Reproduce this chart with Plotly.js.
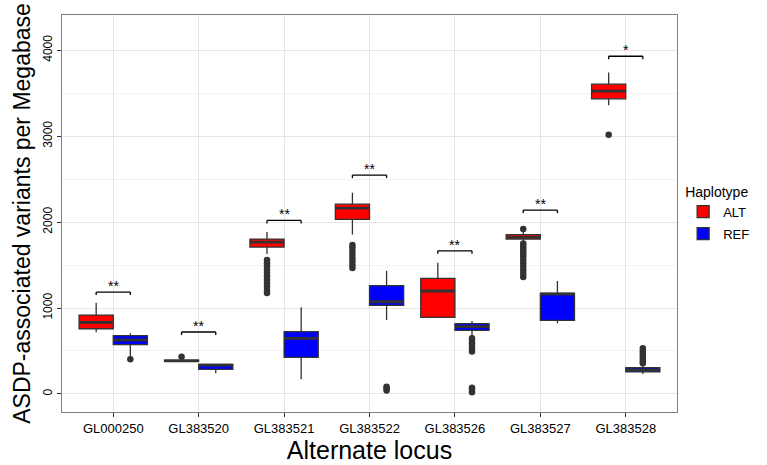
<!DOCTYPE html>
<html>
<head>
<meta charset="utf-8">
<script src="https://cdn.plot.ly/plotly-3.0.1.min.js"></script>
<style>html,body{margin:0;padding:0;background:#fff;}#chart{width:767px;height:465px;}</style>
</head>
<body>
<div id="chart"></div>
<script>
const categories = ["GL000250","GL383520","GL383521","GL383522","GL383526","GL383527","GL383528"];

// ALT haplotype box statistics
const altLower  = [717, 375, 1628, 1857, 892, 1771, 3360];
const altQ1     = [759, 378, 1709, 2031, 892, 1802, 3434];
const altMedian = [834, 385, 1767, 2163, 1198, 1822, 3523];
const altQ3     = [918, 392, 1802, 2209, 1345, 1853, 3605];
const altUpper  = [1062, 398, 1884, 2341, 1527, 1884, 3740];
const altOutliers = [
  [null],
  [434],
  [1558, 1520, 1490, 1450, 1410, 1370, 1330, 1290, 1250, 1210, 1175],
  [1733, 1700, 1660, 1620, 1580, 1540, 1500, 1465],
  [null],
  [1919, 1752, 1720, 1690, 1660, 1630, 1600, 1560, 1520, 1480, 1440, 1400, 1360],
  [3015]
];

// REF haplotype box statistics
const refLower  = [440, 240, 171, 860, 667, 822, 233];
const refQ1     = [573, 285, 426, 1031, 740, 857, 256];
const refMedian = [628, 335, 647, 1073, 783, 1163, 279];
const refQ3     = [678, 345, 725, 1260, 818, 1171, 306];
const refUpper  = [706, 350, 1008, 1434, 849, 1314, 340];
const refOutliers = [
  [405],
  [null],
  [null],
  [85, 65, 40],
  [648, 620, 590, 560, 530, 495, 73, 45, 20],
  [null],
  [531, 500, 470, 440, 410, 380, 357]
];

// significance brackets
const bracketY = [1186, 721, 2019, 2547, 1666, 2140, 3930];
const bracketLabel = ["**","**","**","**","**","**","*"];

const lineCol = "#333333";
function boxTrace(name, fill, q1, med, q3, lo, hi, outl) {
  return {
    type: "box", name: name, x: categories, offsetgroup: name, legendgroup: name,
    q1: q1, median: med, q3: q3, lowerfence: lo, upperfence: hi,
    y: outl,
    boxpoints: "outliers", jitter: 0, pointpos: 0,
    fillcolor: fill,
    line: {color: lineCol, width: 1.3},
    marker: {color: lineCol, size: 6.5, outliercolor: lineCol, line: {width: 0}},
    whiskerwidth: 0,
    hoverinfo: "skip"
  };
}
// thick median bar drawn on top (ggplot-style fattened median)
function medianTrace(name, med) {
  return {
    type: "box", name: name + " median", x: categories, offsetgroup: name, legendgroup: name,
    q1: med, median: med, q3: med, lowerfence: med, upperfence: med,
    boxpoints: false, fillcolor: "rgba(0,0,0,0)",
    line: {color: lineCol, width: 2.8},
    whiskerwidth: 0, showlegend: false, hoverinfo: "skip"
  };
}

const data = [
  boxTrace("ALT", "#ff0000", altQ1, altMedian, altQ3, altLower, altUpper, altOutliers),
  boxTrace("REF", "#0000ff", refQ1, refMedian, refQ3, refLower, refUpper, refOutliers),
  medianTrace("ALT", altMedian),
  medianTrace("REF", refMedian)
];

const shapes = [];
const annotations = [];
const tick = 35;
categories.forEach((c, i) => {
  const y = bracketY[i];
  const x0 = i - 0.2, x1 = i + 0.2;
  const ln = {color: "#000", width: 1.3};
  shapes.push({type: "line", xref: "x", yref: "y", x0: x0, x1: x1, y0: y, y1: y, line: ln});
  shapes.push({type: "line", xref: "x", yref: "y", x0: x0, x1: x0, y0: y, y1: y - tick, line: ln});
  shapes.push({type: "line", xref: "x", yref: "y", x0: x1, x1: x1, y0: y, y1: y - tick, line: ln});
  annotations.push({x: i, y: y, xref: "x", yref: "y", text: bracketLabel[i], showarrow: false,
    yanchor: "bottom", yshift: -4, font: {size: 14, color: "#000"}});
});

const layout = {
  width: 767, height: 465,
  margin: {l: 62, r: 87, t: 15, b: 53},
  paper_bgcolor: "#ffffff", plot_bgcolor: "#ffffff",
  font: {family: "Liberation Sans, Arial, sans-serif", color: "#000"},
  boxmode: "group", boxgap: 0.2, boxgroupgap: 0,
  showlegend: true,
  legend: {
    title: {text: "Haplotype", font: {size: 14}},
    x: 1.01, xanchor: "left", y: 0.5, yanchor: "middle",
    font: {size: 13}, tracegroupgap: 2, itemwidth: 30
  },
  xaxis: {
    type: "category", range: [-0.6, 6.6],
    title: {text: "Alternate locus", font: {size: 25}, standoff: 2},
    tickfont: {size: 13, color: "#000"},
    showgrid: true, gridcolor: "#e6e6e6", gridwidth: 1,
    ticks: "outside", ticklen: 4, tickcolor: "#333",
    showline: true, linecolor: "#7f7f7f", linewidth: 1, mirror: true,
    zeroline: false
  },
  yaxis: {
    range: [-210, 4410],
    tickvals: [0, 1000, 2000, 3000, 4000],
    title: {text: "ASDP-associated variants per Megabase", font: {size: 23}, standoff: 4},
    tickfont: {size: 12, color: "#000"},
    tickangle: -90,
    showgrid: true, gridcolor: "#e6e6e6", gridwidth: 1,
    minor: {tickvals: [500, 1500, 2500, 3500], showgrid: true, gridcolor: "#f2f2f2", gridwidth: 1, ticks: ""},
    ticks: "outside", ticklen: 4, tickcolor: "#333",
    showline: true, linecolor: "#7f7f7f", linewidth: 1, mirror: true,
    zeroline: false
  },
  shapes: shapes,
  annotations: annotations
};

Plotly.newPlot("chart", data, layout, {displayModeBar: false, staticPlot: true});
</script>
</body>
</html>
